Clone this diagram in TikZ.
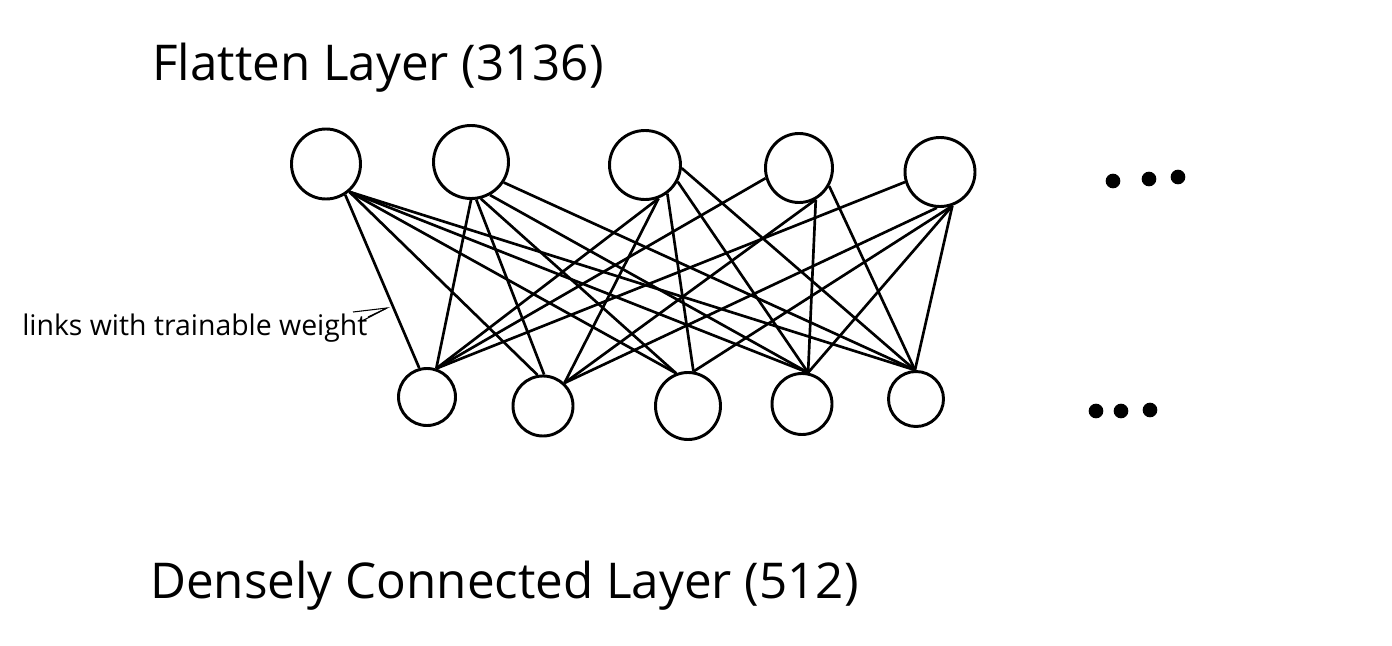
\documentclass[tikz,border=0pt]{standalone}
\usepackage{fontspec}
\setmainfont{Open Sans}
\usetikzlibrary{shapes.geometric}
\begin{document}
\begin{tikzpicture}[x=0.75pt,y=-0.75pt,
  neuron/.style={draw, ellipse, line width=2.2pt, inner sep=0pt},
  nsz/.style 2 args={minimum width=#1*0.75pt, minimum height=#2*0.75pt},
  link/.style={line width=2pt},
  thinarrow/.style={line width=0.8pt},
  dot/.style={fill, circle, inner sep=0pt, minimum size=11pt},
  title/.style={anchor=base west, inner sep=0pt, font=\fontsize{37}{44}\selectfont},
  note/.style={anchor=base west, inner sep=0pt, font=\fontsize{21.3}{25}\selectfont}]
\useasboundingbox (0,0) rectangle (1392,646);
% top layer
\node[neuron, nsz={69}{70}] (T1) at (326,164) {};
\node[neuron, nsz={75}{73}] (T2) at (471,162) {};
\node[neuron, nsz={71}{69}] (T3) at (645,165) {};
\node[neuron, nsz={67}{69}] (T4) at (799,168) {};
\node[neuron, nsz={70}{69}] (T5) at (940,172) {};
% bottom layer
\node[neuron, nsz={57}{57}] (B1) at (427,397) {};
\node[neuron, nsz={60}{60}] (B2) at (543,406) {};
\node[neuron, nsz={65}{67}] (B3) at (688,406) {};
\node[neuron, nsz={60}{61}] (B4) at (802,404) {};
\node[neuron, nsz={55}{55}] (B5) at (916,399) {};
% links from T1
\draw[link] (T1.-58) -- (B1.105);
\draw[link] (T1.-50) -- (B2.100);
\draw[link] (T1.-50) -- (B3.110);
\draw[link] (T1.-50) -- (B4.79);
\draw[link] (T1.-50) -- (B5.92);
% links from T2
\draw[link] (T2.-90) -- (B1.72);
\draw[link] (T2.-82) -- (B2.88);
\draw[link] (T2.-75) -- (B3.110);
\draw[link] (T2.-60) -- (B4.79);
\draw[link] (T2.-32) -- (B5.92);
% links from T3
\draw[link] (T3.-68) -- (B1.72);
\draw[link] (T3.-68) -- (B2.47);
\draw[link] (T3.-52) -- (B3.81);
\draw[link] (T3.-27) -- (B4.79);
\draw[link] (T3.-5) -- (B5.92);
% links from T4
\draw[link] (T4.-163) -- (B1.72);
\draw[link] (T4.-62) -- (B2.47);
\draw[link] (T4.-62) -- (B4.79);
\draw[link] (T4.-31) -- (B5.92);
% links from T5
\draw[link] (T5.-164) -- (B1.72);
\draw[link] (T5.-95) -- (B2.47);
\draw[link] (T5.-70) -- (B3.81);
\draw[link] (T5.-70) -- (B4.79);
\draw[link] (T5.-70) -- (B5.92);
% ellipsis dots
\node[dot] (d1) at (1113,181) {};
\node[dot] (d2) at (1149,179) {};
\node[dot] (d3) at (1178,177) {};
\node[dot] (d4) at (1096,411) {};
\node[dot] (d5) at (1121,411) {};
\node[dot] (d6) at (1150,410) {};
% labels
\node[title] (L1) at (152,80) {Flatten Layer (3136)};
\node[title] (L2) at (150,598) {Densely Connected Layer (512)};
\node[note] (L3) at (22,335) {links with trainable weight};
% hand-drawn pointer
\coordinate (tip) at (387,308);
\coordinate (a1) at (353,312);
\coordinate (a2) at (362,321);
\coordinate (a3) at (368,317);
\draw[thinarrow] (a1) -- (tip) -- (a2);
\draw[thinarrow] (a3) -- (tip);
\end{tikzpicture}
\end{document}
